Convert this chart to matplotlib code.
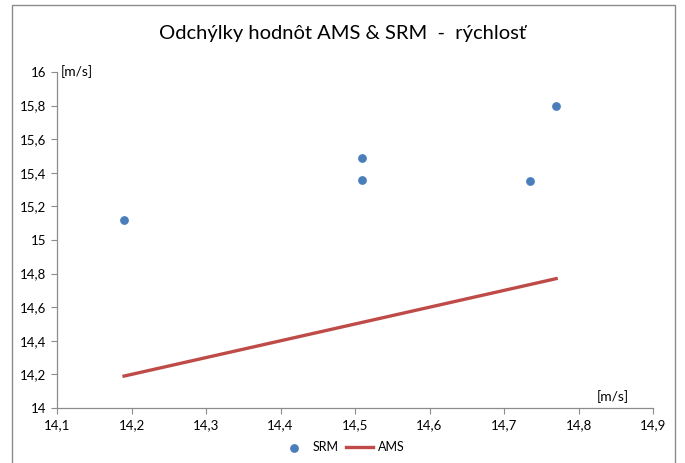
import matplotlib
matplotlib.use("Agg")
import matplotlib.pyplot as plt
from matplotlib.patches import Rectangle
from matplotlib.ticker import FuncFormatter

plt.rcParams['font.family'] = ['Lato', 'DejaVu Sans']

# namerane hodnoty rychlosti [m/s]
srm_x = [14.19, 14.51, 14.51, 14.735, 14.77]
srm_y = [15.12, 15.49, 15.36, 15.35, 15.80]
ams_x = [14.19, 14.51, 14.51, 14.735, 14.77]
ams_y = [14.19, 14.51, 14.51, 14.735, 14.77]

x_ticks = [14.1, 14.2, 14.3, 14.4, 14.5, 14.6, 14.7, 14.8, 14.9]
y_ticks = [14, 14.2, 14.4, 14.6, 14.8, 15, 15.2, 15.4, 15.6, 15.8, 16]


def ciarka(v, pos):
    s = ("%.1f" % v).rstrip('0').rstrip('.')
    return s.replace('.', ',')


fig = plt.figure(figsize=(6.85, 4.63), dpi=100)
fig.patches.append(Rectangle((12 / 685, -0.01), 663 / 685, 1 - 5 / 463 + 0.01,
                             transform=fig.transFigure, fill=False,
                             edgecolor='#8c8c8c', linewidth=1.0))

ax = fig.add_axes([57 / 685, 1 - 408 / 463, 596 / 685, 336 / 463])
ax.plot(ams_x, ams_y, color='#be4b48', linewidth=2.4, label='AMS', zorder=2)
ax.scatter(srm_x, srm_y, s=28, color='#4a7ebb', label='SRM', zorder=3)

ax.set_xlim(14.1, 14.9)
ax.set_ylim(14, 16)
ax.set_xticks(x_ticks)
ax.set_yticks(y_ticks)
ax.xaxis.set_major_formatter(FuncFormatter(ciarka))
ax.yaxis.set_major_formatter(FuncFormatter(ciarka))
ax.tick_params(labelsize=9.5, length=4, width=0.8, color='#8c8c8c', pad=4)
for side in ['top', 'right']:
    ax.spines[side].set_visible(False)
for side in ['left', 'bottom']:
    ax.spines[side].set_color('#8c8c8c')
    ax.spines[side].set_linewidth(0.9)

ax.text(0.006, 1.0, '[m/s]', transform=ax.transAxes, fontsize=10, va='center', ha='left')
ax.text(0.96, 0.015, '[m/s]', transform=ax.transAxes, fontsize=10, va='bottom', ha='right')

fig.suptitle('Odchýlky hodnôt AMS & SRM  -  rýchlosť', y=1 - 34 / 463, va='center', fontsize=14.5)

h, l = ax.get_legend_handles_labels()
fig.legend([h[1], h[0]], [l[1], l[0]], loc='center', bbox_to_anchor=(0.5, 1 - 447 / 463),
           ncol=2, frameon=False, fontsize=9, handlelength=2.2, columnspacing=0.6,
           handletextpad=0.4)

fig.savefig('out.png', dpi=100)
